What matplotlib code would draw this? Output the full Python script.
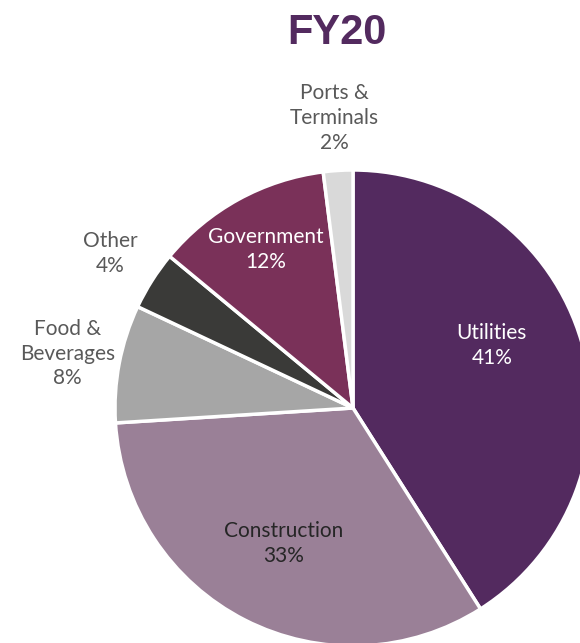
import numpy as np
import matplotlib
matplotlib.use("Agg")
import matplotlib.pyplot as plt

labels = ["Utilities", "Construction", "Food &\nBeverages", "Other", "Government", "Ports &\nTerminals"]
shares = [41, 33, 8, 4, 12, 2]
colors = ["#532A5F", "#9A8097", "#A6A6A6", "#3A3A38", "#7A3159", "#D9D9D9"]
text_colors = ["white", "#262626", "#595959", "#595959", "white", "#595959"]
# label placement: fraction of radius, and angle nudge in degrees
label_dist = [0.64, 0.64, 1.22, 1.21, 0.76, 1.22]
label_turn = [8, 0, 0, 0, 0, 0]

W, H = 580, 643
fig = plt.figure(figsize=(W / 100, H / 100), dpi=100)
ax = fig.add_axes([0, 0, 1, 1])
ax.axis("off")

cx, cy, R = 353, H - 408, 238
wedges, _ = ax.pie(shares, colors=colors, startangle=90, counterclock=False,
                   center=(cx, cy), radius=R,
                   wedgeprops=dict(edgecolor="white", linewidth=2.5))
ax.set_xlim(0, W)
ax.set_ylim(0, H)

for w, lab, val, tc, d, t in zip(wedges, labels, shares, text_colors, label_dist, label_turn):
    mid = np.deg2rad((w.theta1 + w.theta2) / 2 + t)
    x = cx + d * R * np.cos(mid)
    y = cy + d * R * np.sin(mid)
    ax.text(x, y, f"{lab}\n{val}%", ha="center", va="center", color=tc,
            fontsize=15, family="Lato", linespacing=1.3)

ax.text(337, H - 33, "FY20", ha="center", va="center", color="#532A5F",
        fontsize=30, fontweight="heavy", family="Liberation Sans")

fig.savefig("out.png", dpi=100)
